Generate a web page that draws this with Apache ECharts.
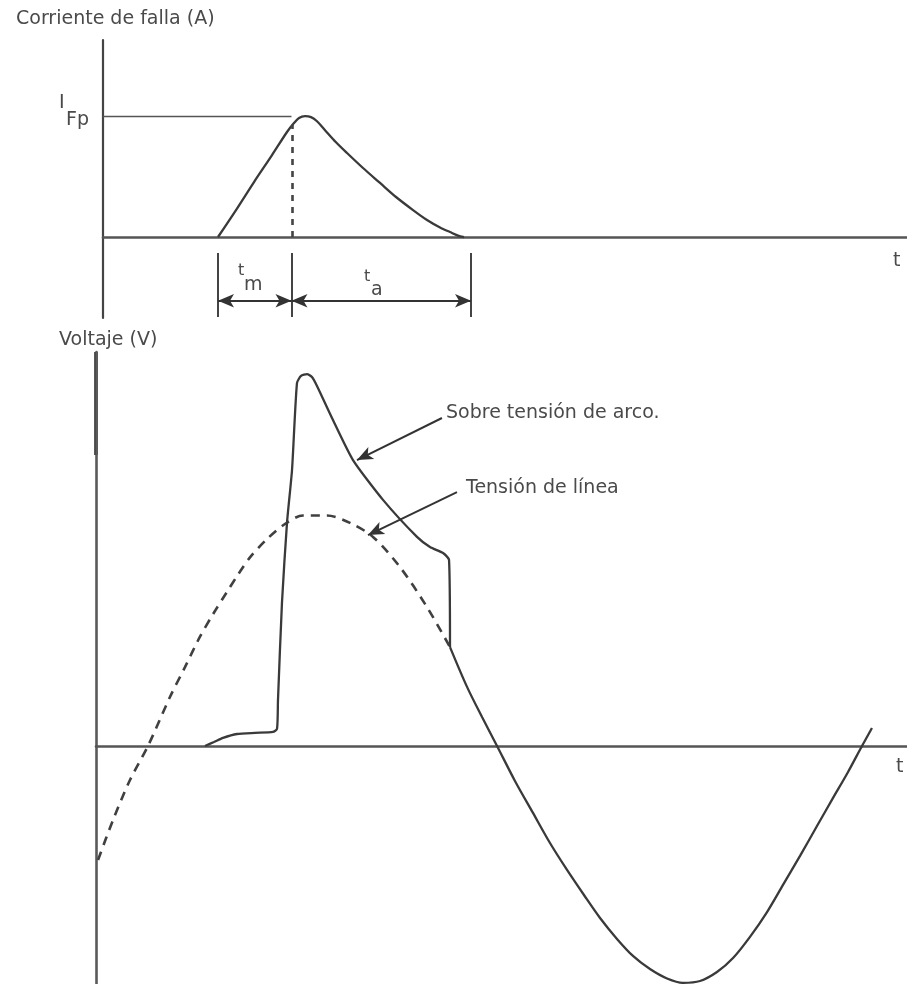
<!DOCTYPE html>
<html>
<head>
<meta charset="utf-8">
<script src="https://cdn.jsdelivr.net/npm/echarts@6.0.0/dist/echarts.min.js"></script>
<style>
  html, body { margin: 0; padding: 0; background: #fff; }
  #chart { width: 907px; height: 984px; }
</style>
</head>
<body>
<div id="chart"></div>
<script>
// Fault current through the fuse, in % of the peak let-through current I_Fp
const currentT = [15.04, 17.26, 19.48, 21.70, 23.55, 24.41, 25.03, 25.77, 26.51, 27.25, 28.24,
                  29.59, 30.95, 32.92, 35.02, 36.99, 39.09, 40.81, 42.42, 43.65, 44.64, 45.38];
const currentA = [0, 22.3, 45.5, 67.8, 86.9, 94.3, 98.5, 100, 99.2, 95.8, 88.4,
                  78.4, 69.5, 57.1, 44.7, 33.1, 22.3, 14.1, 7.9, 4.1, 1.2, 0];

// Prospective line voltage, in % of its peak (dashed)
const lineT = [0.25, 2.10, 4.19, 6.41, 9.12, 10.97, 12.82, 14.43, 16.15, 17.51, 18.99, 21.09,
               23.30, 25.52, 28.48, 31.32, 34.16, 37.48, 40.81, 43.65];
const lineV = [-49.6, -32.2, -14.8, 0, 21.3, 34.3, 47.5, 57.3, 67.0, 74.5, 82.0, 90.0,
               96.5, 100.2, 100.2, 97.0, 90.9, 77.8, 60.4, 43.0];

// Voltage across the fuse while it melts and arcs (solid)
const arcT = [13.44, 14.55, 15.66, 17.39, 19.61, 21.82, 22.32, 22.44, 22.93, 23.55, 24.17, 24.78,
              25.28, 26.02, 26.63, 27.25, 29.22, 31.69, 35.39, 39.58, 41.18, 42.79, 43.53, 43.65];
const arcV = [0, 1.7, 3.5, 5.2, 5.7, 6.1, 7.4, 20, 62.2, 97.0, 120, 157.8,
              160.9, 161.7, 160.4, 156.5, 141.7, 124.3, 107, 90.9, 86.5, 83.9, 80.9, 43.0];

// After clearing, the voltage follows the line voltage again (solid)
const tailT = [43.65, 45.75, 47.60, 49.45, 51.66, 53.88, 55.98, 58.08, 60.17, 62.15, 64.24, 66.21,
               68.31, 70.41, 72.38, 74.48, 76.57, 78.55, 80.64, 82.74, 84.71, 86.81, 88.90, 90.88,
               92.73, 94.45, 95.68];
const tailV = [43.0, 25.7, 12.6, 0, -15.2, -29.1, -42.2, -53.9, -64.8, -74.8, -83.9, -91.3,
               -97.0, -101.1, -103.0, -102.2, -98.3, -92.2, -83.0, -72.2, -60.4, -47.8, -34.8, -22.6,
               -11.3, 0, 7.8];

// Time marks: start of fault, end of melting (t_m), end of arcing (t_a)
const tFault = 15.04;
const tMelt = 24.1;
const tClear = 46.24;
const iPeak = 100;
const iAtMelt = 93;

const zip = (xs, ys) => xs.map((x, i) => [x, ys[i]]);

const INK = '#3a3a3a';
const TEXT = '#4a4a4a';
const FONT = 'DejaVu Sans, sans-serif';

const dimStyle = { color: '#444', width: 2, type: 'solid' };
const dimArrow = { color: '#333', width: 1.8, type: 'solid' };

function dimLine(t) {
  return [{ coord: [t, -13.2], symbol: 'none', lineStyle: dimStyle },
          { coord: [t, -66.2], symbol: 'none', lineStyle: dimStyle }];
}
function dimSpan(a, b) {
  return [{ coord: [a, -52.7], symbol: 'arrow', lineStyle: dimArrow },
          { coord: [b, -52.7], symbol: 'arrow', lineStyle: dimArrow }];
}

const chart = echarts.init(document.getElementById('chart'), null, { renderer: 'canvas' });

const hiddenAxis = {
  axisTick: { show: false },
  axisLabel: { show: false },
  splitLine: { show: false }
};

chart.setOption({
  animation: false,
  backgroundColor: '#ffffff',
  grid: [
    { left: 103, right: 0, top: 40, bottom: 666 },
    { left: 96, right: 0, top: 352, bottom: 0 }
  ],
  xAxis: [
    Object.assign({ type: 'value', gridIndex: 0, min: 0.86, max: 100,
      axisLine: { onZero: true, lineStyle: { color: '#555', width: 2.6 } } }, hiddenAxis),
    Object.assign({ type: 'value', gridIndex: 1, min: 0, max: 100,
      axisLine: { onZero: true, lineStyle: { color: '#555', width: 2.6 } } }, hiddenAxis)
  ],
  yAxis: [
    Object.assign({ type: 'value', gridIndex: 0, min: -67, max: 163,
      axisLine: { onZero: false, lineStyle: { color: '#444', width: 2.2 } } }, hiddenAxis),
    Object.assign({ type: 'value', gridIndex: 1, min: -103.5, max: 171.3,
      axisLine: { onZero: false, lineStyle: { color: '#5a5a5a', width: 2.6 } } }, hiddenAxis)
  ],
  series: [
    {
      name: 'Corriente de falla',
      type: 'line',
      xAxisIndex: 0, yAxisIndex: 0,
      data: zip(currentT, currentA),
      smooth: 0.3,
      showSymbol: false,
      lineStyle: { color: INK, width: 2.3 },
      markLine: {
        silent: true,
        label: { show: false },
        symbolSize: [10, 16],
        data: [
          [{ coord: [0.86, iPeak], symbol: 'none', lineStyle: { color: '#555', width: 1.3, type: 'solid' } },
           { coord: [tMelt, iPeak], symbol: 'none', lineStyle: { color: '#555', width: 1.3, type: 'solid' } }],
          [{ coord: [tMelt + 0.15, 0], symbol: 'none', lineStyle: { color: '#444', width: 2.6, type: [6, 6] } },
           { coord: [tMelt + 0.15, iAtMelt], symbol: 'none', lineStyle: { color: '#444', width: 2.6, type: [6, 6] } }],
          dimLine(tFault), dimLine(tMelt), dimLine(tClear),
          dimSpan(tFault, tMelt), dimSpan(tMelt, tClear)
        ]
      }
    },
    {
      name: 'Tensión de línea',
      type: 'line',
      xAxisIndex: 1, yAxisIndex: 1,
      data: zip(lineT, lineV),
      smooth: 0.3,
      showSymbol: false,
      lineStyle: { color: '#404040', width: 2.6, type: [9, 7] }
    },
    {
      name: 'Sobre tensión de arco',
      type: 'line',
      xAxisIndex: 1, yAxisIndex: 1,
      data: zip(arcT, arcV),
      smooth: 0.2,
      showSymbol: false,
      lineStyle: { color: INK, width: 2.3 },
      markLine: {
        silent: true,
        label: { show: false },
        symbolSize: [10, 16],
        data: [
          [{ coord: [42.66, 142.6], symbol: 'none', lineStyle: { color: '#333', width: 2, type: 'solid' } },
           { coord: [32.18, 124.3], symbol: 'arrow' }],
          [{ coord: [44.51, 110.4], symbol: 'none', lineStyle: { color: '#333', width: 2, type: 'solid' } },
           { coord: [33.54, 91.7], symbol: 'arrow' }]
        ]
      }
    },
    {
      name: 'Tensión tras la fusión',
      type: 'line',
      xAxisIndex: 1, yAxisIndex: 1,
      data: zip(tailT, tailV),
      smooth: 0.3,
      showSymbol: false,
      lineStyle: { color: INK, width: 2.3 }
    }
  ]
});

// Texts: axis titles, symbols and callouts
function txt(text, x, y, opts) {
  return {
    type: 'text',
    silent: true,
    style: Object.assign({
      text: text, x: x, y: y,
      font: '19px ' + FONT,
      fill: TEXT,
      align: 'left',
      verticalAlign: 'middle'
    }, opts || {})
  };
}

chart.setOption({
  graphic: [
    // heavier top stretch of the voltage axis
    { type: 'line', silent: true, shape: { x1: 96, y1: 352, x2: 96, y2: 455 },
      style: { stroke: '#111', lineWidth: 3.4 } },
    txt('Corriente de falla (A)', 16, 19),
    txt('Voltaje (V)', 59, 340),
    txt('I', 59, 103),
    txt('Fp', 66, 120),
    txt('t', 238, 271, { font: '16px ' + FONT }),
    txt('m', 244, 285),
    txt('t', 364, 277, { font: '16px ' + FONT }),
    txt('a', 371, 290),
    txt('t', 893, 261),
    txt('t', 896, 767),
    txt('Sobre tensión de arco.', 446, 413),
    txt('Tensión de línea', 466, 488)
  ]
});
</script>
</body>
</html>
